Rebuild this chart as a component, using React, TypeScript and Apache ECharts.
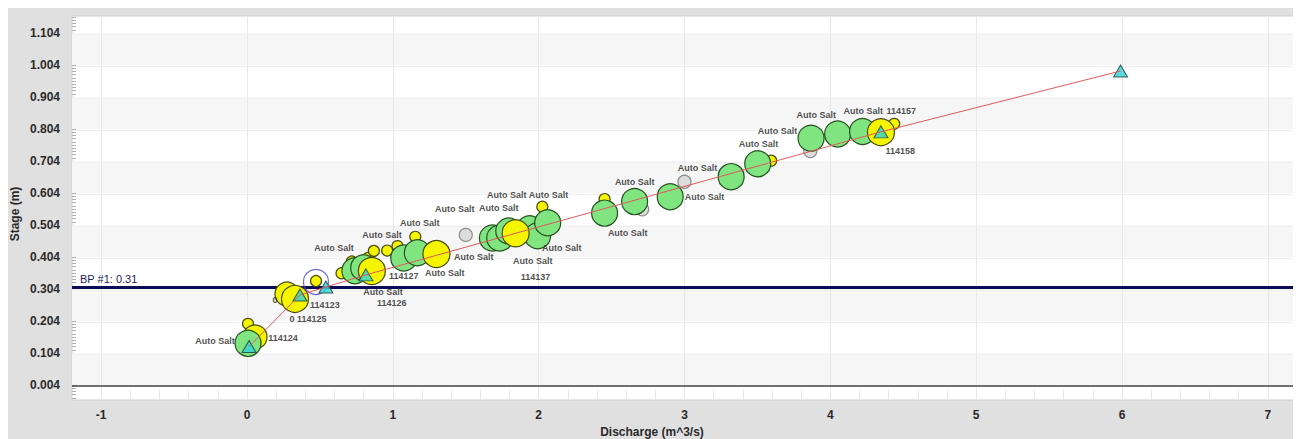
import React, { useEffect, useRef } from "react";
import * as echarts from "echarts";

// Stage axis tick positions (m)
const yTickValues = [0.004, 0.104, 0.204, 0.304, 0.404, 0.504, 0.604, 0.704, 0.804, 0.904, 1.004, 1.104];
// Discharge axis tick positions (m^3/s)
const xTickValues = [-1, 0, 1, 2, 3, 4, 5, 6, 7];

// Rating curve control points [discharge, stage]
const ratingCurve = [
  [0.014, 0.124],
  [0.363, 0.285],
  [0.541, 0.31],
  [0.815, 0.348],
  [4.347, 0.795],
  [5.99, 0.985],
];

// Field measurements, grouped by marker style
const greenMeasurements = [
  [0.007, 0.134], [0.74, 0.361], [0.8, 0.37], [1.075, 0.401], [1.168, 0.417],
  [1.683, 0.463], [1.733, 0.463], [1.795, 0.485], [1.938, 0.492], [1.993, 0.47],
  [2.062, 0.511], [2.452, 0.541], [2.658, 0.577], [2.902, 0.592], [3.32, 0.655],
  [3.502, 0.695], [3.868, 0.775], [4.05, 0.788], [4.221, 0.796],
];
const yellowSmall = [
  [0.007, 0.195], [0.473, 0.329], [0.648, 0.353], [0.719, 0.39], [0.829, 0.401],
  [0.87, 0.423], [0.961, 0.424], [1.032, 0.438], [1.154, 0.467], [2.025, 0.561],
  [2.452, 0.585], [3.594, 0.705], [4.438, 0.82],
];
const yellowBack = [[0.055, 0.154], [0.274, 0.288]];
const yellowLarge = [[0.329, 0.273], [0.856, 0.36], [1.299, 0.413], [1.842, 0.478], [4.347, 0.794]];
const grayPoints = [[1.5, 0.473], [2.71, 0.553], [3.0, 0.639], [3.863, 0.735]];
const highlighted = [[0.473, 0.326]];

// Point annotations [discharge, stage, text]
const annotations: [number, number, string][] = [
  [-0.219, 0.142, "Auto Salt"],
  [0.247, 0.151, "114124"],
  [0.192, 0.27, "0"],
  [0.534, 0.254, "114123"],
  [0.418, 0.21, "0 114125"],
  [0.596, 0.432, "Auto Salt"],
  [1.075, 0.345, "114127"],
  [0.932, 0.295, "Auto Salt"],
  [0.993, 0.26, "114126"],
  [0.925, 0.473, "Auto Salt"],
  [1.185, 0.51, "Auto Salt"],
  [1.425, 0.554, "Auto Salt"],
  [1.781, 0.598, "Auto Salt"],
  [2.068, 0.598, "Auto Salt"],
  [1.726, 0.557, "Auto Salt"],
  [1.555, 0.404, "Auto Salt"],
  [1.356, 0.354, "Auto Salt"],
  [1.959, 0.391, "Auto Salt"],
  [1.979, 0.342, "114137"],
  [2.158, 0.432, "Auto Salt"],
  [2.61, 0.479, "Auto Salt"],
  [2.658, 0.639, "Auto Salt"],
  [3.137, 0.592, "Auto Salt"],
  [3.089, 0.682, "Auto Salt"],
  [3.507, 0.757, "Auto Salt"],
  [3.637, 0.798, "Auto Salt"],
  [3.904, 0.848, "Auto Salt"],
  [4.226, 0.86, "Auto Salt"],
  [4.486, 0.86, "114157"],
  [4.479, 0.735, "114158"],
];

const breakpointStage = 0.31;

const FONT = "'Liberation Sans', Arial, sans-serif";

export default function App() {
  const ref = useRef<HTMLDivElement>(null);

  useEffect(() => {
    document.body.style.overflow = "hidden";
    if (!ref.current) return;
    const chart = echarts.init(ref.current, null, { renderer: "svg" });

    const yMinorTicks: number[] = [];
    for (let k = -4; k <= 115; k++) yMinorTicks.push(+(0.004 + 0.01 * k).toFixed(3));
    const xMinorTicks: number[] = [];
    for (let k = -5; k <= 41; k++) xMinorTicks.push(+(0.2 * k).toFixed(1));

    const bands: any[] = [];
    for (let i = 0; i + 1 < yTickValues.length; i += 2) {
      bands.push([{ yAxis: yTickValues[i] }, { yAxis: yTickValues[i + 1] }]);
    }

    const circleSeries = (name: string, data: number[][], size: number, fill: string, border: string) => ({
      name,
      type: "scatter",
      data,
      symbol: "circle",
      symbolSize: size,
      silent: true,
      itemStyle: { color: fill, borderColor: border, borderWidth: 1.2, opacity: 1 },
    });

    chart.setOption({
      animation: false,
      backgroundColor: "#e0e0e0",
      textStyle: { fontFamily: FONT },
      grid: {
        left: 64,
        top: 8,
        right: 4,
        bottom: 39,
        show: true,
        backgroundColor: "#ffffff",
        borderColor: "#cfcfcf",
        borderWidth: 1,
        containLabel: false,
        outerBoundsMode: "none",
      },
      xAxis: {
        type: "value",
        min: -1.2,
        max: 7.2,
        axisLine: { show: false, onZero: false },
        axisTick: {
          show: true,
          inside: true,
          length: 10,
          customValues: xMinorTicks,
          lineStyle: { color: "#e6e6e6" },
        },
        axisLabel: {
          customValues: xTickValues,
          fontSize: 12,
          fontWeight: "bold",
          color: "#2a2a2a",
          fontFamily: FONT,
          margin: 9,
          formatter: (v: number) => String(v),
        },
        splitLine: { show: false },
      },
      yAxis: {
        type: "value",
        min: -0.043,
        max: 1.157,
        axisLine: { show: false, onZero: false },
        axisTick: {
          show: true,
          inside: true,
          length: 4,
          customValues: yMinorTicks,
          lineStyle: { color: "#b0b0b0" },
        },
        axisLabel: {
          customValues: yTickValues,
          fontSize: 12,
          fontWeight: "bold",
          color: "#2a2a2a",
          fontFamily: FONT,
          margin: 12,
          formatter: (v: number) => v.toFixed(3),
        },
        splitLine: { show: false },
      },
      graphic: [
        {
          type: "text",
          x: 7,
          y: 206,
          rotation: Math.PI / 2,
          style: {
            text: "Stage (m)",
            align: "center",
            verticalAlign: "middle",
            font: `bold 12px ${FONT}`,
            fill: "#2a2a2a",
          },
        },
        {
          type: "text",
          x: 644,
          y: 424,
          style: {
            text: "Discharge (m^3/s)",
            align: "center",
            verticalAlign: "middle",
            font: `bold 12px ${FONT}`,
            fill: "#2a2a2a",
          },
        },
      ],
      series: [
        {
          name: "grid",
          type: "scatter",
          data: [],
          silent: true,
          markArea: {
            silent: true,
            z: 1,
            itemStyle: { color: "#f6f6f6" },
            label: { show: false },
            data: bands,
          },
          markLine: {
            silent: true,
            z: 1.5,
            symbol: "none",
            label: { show: false },
            lineStyle: { color: "#e8e8e8", width: 1, type: "solid" },
            data: [
              ...xTickValues.map((v) => ({ xAxis: v })),
              ...yTickValues.map((v) => ({ yAxis: v, lineStyle: { color: "#efefef" } })),
            ],
          },
        },
        {
          name: "Rating curve",
          type: "line",
          data: ratingCurve,
          symbol: "none",
          silent: true,
          lineStyle: { color: "#e05a5a", width: 1 },
          markLine: {
            silent: true,
            z: 1.8,
            symbol: "none",
            data: [
              {
                yAxis: 0,
                lineStyle: { color: "#444444", width: 1.5, type: "solid" },
                label: { show: false },
              },
              {
                yAxis: breakpointStage,
                lineStyle: { color: "#0b0b55", width: 3, type: "solid" },
                label: {
                  show: true,
                  position: "insideStartTop",
                  formatter: "BP #1: " + breakpointStage.toFixed(2),
                  color: "#1c1c5e",
                  fontSize: 11,
                  fontFamily: FONT,
                  distance: [8, 3],
                },
              },
            ],
          },
        },
        circleSeries("Yellow small", yellowSmall, 11, "#f5f500", "#4a4a10"),
        circleSeries("Gray", grayPoints, 13, "#dcdcdc", "#8a8a8a"),
        circleSeries("Yellow back", yellowBack, 24, "#f5f500", "#4a4a10"),
        circleSeries("Measurements", greenMeasurements, 26, "#80e580", "#24521f"),
        circleSeries("Yellow large", yellowLarge, 27, "#f5f500", "#4a4a10"),
        {
          name: "Selected",
          type: "scatter",
          data: highlighted,
          symbol: "circle",
          symbolSize: 25,
          silent: true,
          itemStyle: { color: "rgba(0,0,0,0)", borderColor: "#4b45c8", borderWidth: 1.2 },
        },
        {
          name: "Rating points",
          type: "scatter",
          data: ratingCurve,
          symbol: "triangle",
          symbolSize: [14, 12],
          silent: true,
          itemStyle: { color: "#2fd3d6", borderColor: "#1a3a3a", borderWidth: 1 },
        },
        {
          name: "Annotations",
          type: "scatter",
          data: annotations.map((a) => ({ value: [a[0], a[1]], name: a[2] })),
          symbol: "circle",
          symbolSize: 1,
          silent: true,
          itemStyle: { color: "rgba(0,0,0,0)" },
          label: {
            show: true,
            position: "inside",
            formatter: "{b}",
            fontSize: 9,
            fontWeight: "bold",
            color: "#222222",
            fontFamily: FONT,
          },
          labelLayout: { hideOverlap: false },
        },
      ],
    });

    return () => chart.dispose();
  }, []);

  return <div ref={ref} style={{ width: 1293, height: 431 }} />;
}
